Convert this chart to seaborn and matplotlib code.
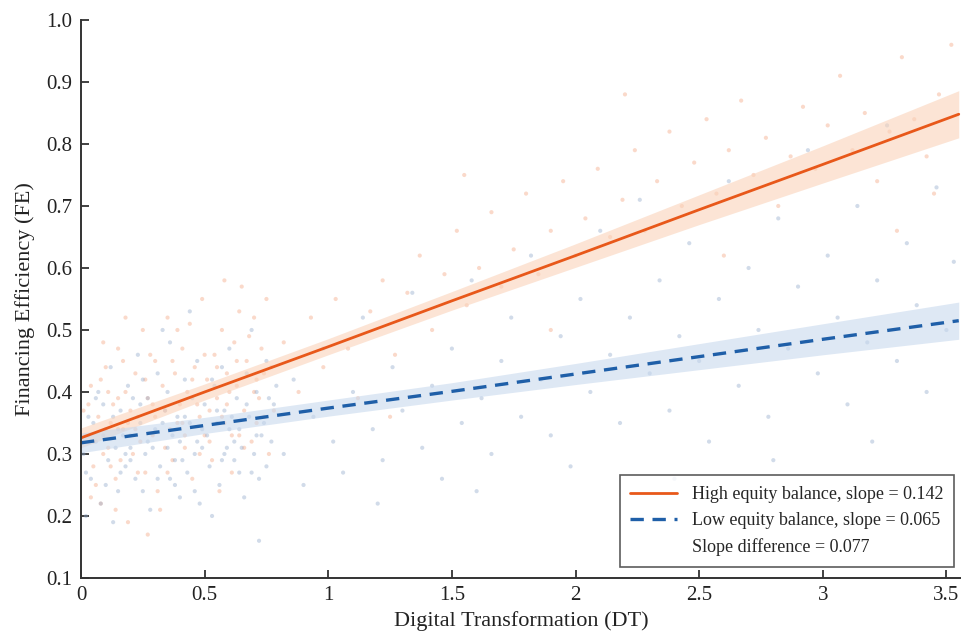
import numpy as np
import pandas as pd
import matplotlib
matplotlib.use("Agg")
import matplotlib.pyplot as plt
from matplotlib.lines import Line2D
import seaborn as sns

# scatter points (DT, FE)
high_x = [0.02, 0.04, 0.05, 0.07, 0.08, 0.10, 0.11, 0.13, 0.14, 0.15, 0.17, 0.18, 0.19, 0.21, 0.22, 0.23,
          0.25, 0.26, 0.27, 0.29, 0.30, 0.31, 0.33, 0.34, 0.35, 0.37, 0.38, 0.39, 0.41, 0.42, 0.43, 0.45,
          0.46, 0.47, 0.49, 0.50, 0.51, 0.53, 0.54, 0.55, 0.57, 0.58, 0.59, 0.61, 0.62, 0.63, 0.65, 0.66,
          0.67, 0.69, 0.70, 0.71, 0.73, 0.74, 0.75, 0.77, 0.06, 0.12, 0.16, 0.20, 0.24, 0.28, 0.32, 0.36,
          0.40, 0.44, 0.48, 0.52, 0.56, 0.60, 0.64, 0.68, 0.72, 0.76, 0.03, 0.09, 0.18, 0.27, 0.09, 0.58,
          0.01, 0.05, 0.08, 0.12, 0.15, 0.19, 0.23, 0.26, 0.30, 0.34, 0.37, 0.41, 0.45, 0.48, 0.52, 0.55,
          0.59, 0.63, 0.66, 0.70, 0.74, 0.78, 0.04, 0.11, 0.17, 0.22, 0.29, 0.35, 0.42, 0.50, 0.57, 0.64,
          0.71, 0.14, 0.39, 0.61,
          0.82, 0.88, 0.93, 0.98, 1.03, 1.08, 1.12, 1.17, 1.22, 1.27, 1.32, 1.37, 1.42, 1.47, 1.52, 1.56,
          1.61, 1.66, 1.70, 1.75, 1.80, 1.85, 1.90, 1.95, 2.00, 2.04, 2.09, 2.14, 2.19, 2.24, 2.28, 2.33,
          2.38, 2.43, 2.48, 2.53, 2.57, 2.62, 2.67, 2.72, 2.77, 2.82, 2.87, 2.92, 2.97, 3.02, 3.07, 3.12,
          3.17, 3.22, 3.27, 3.32, 3.37, 3.42, 3.47, 3.52, 1.25, 1.90, 2.60, 3.30, 2.20, 1.55, 3.45]
high_y = [0.33, 0.41, 0.28, 0.36, 0.22, 0.44, 0.31, 0.38, 0.26, 0.47, 0.34, 0.40, 0.19, 0.30, 0.43, 0.36,
          0.50, 0.27, 0.39, 0.33, 0.45, 0.24, 0.41, 0.37, 0.52, 0.29, 0.43, 0.35, 0.47, 0.31, 0.40, 0.26,
          0.44, 0.38, 0.55, 0.33, 0.42, 0.29, 0.46, 0.39, 0.50, 0.35, 0.43, 0.27, 0.48, 0.41, 0.57, 0.37,
          0.45, 0.32, 0.52, 0.42, 0.47, 0.36, 0.55, 0.44, 0.25, 0.35, 0.29, 0.37, 0.32, 0.46, 0.21, 0.34,
          0.38, 0.51, 0.30, 0.37, 0.24, 0.40, 0.33, 0.49, 0.39, 0.30, 0.38, 0.30, 0.52, 0.17, 0.48, 0.58,
          0.37, 0.32, 0.42, 0.28, 0.39, 0.35, 0.27, 0.42, 0.36, 0.31, 0.45, 0.35, 0.42, 0.36, 0.32, 0.44,
          0.38, 0.45, 0.31, 0.40, 0.43, 0.37, 0.23, 0.40, 0.45, 0.34, 0.38, 0.27, 0.33, 0.46, 0.36, 0.53,
          0.35, 0.21, 0.50, 0.33,
          0.48, 0.40, 0.52, 0.44, 0.55, 0.47, 0.39, 0.53, 0.58, 0.46, 0.56, 0.62, 0.50, 0.59, 0.66, 0.54,
          0.60, 0.69, 0.57, 0.63, 0.72, 0.59, 0.66, 0.74, 0.62, 0.68, 0.76, 0.65, 0.71, 0.79, 0.66, 0.74,
          0.82, 0.70, 0.77, 0.84, 0.72, 0.79, 0.87, 0.75, 0.81, 0.70, 0.78, 0.86, 0.76, 0.83, 0.91, 0.79,
          0.85, 0.74, 0.82, 0.94, 0.84, 0.78, 0.88, 0.96, 0.36, 0.50, 0.62, 0.66, 0.88, 0.75, 0.72]

low_x = [0.01, 0.03, 0.04, 0.06, 0.07, 0.08, 0.10, 0.11, 0.12, 0.14, 0.15, 0.16, 0.18, 0.19, 0.20, 0.22,
         0.23, 0.24, 0.26, 0.27, 0.28, 0.30, 0.31, 0.32, 0.34, 0.35, 0.36, 0.38, 0.39, 0.40, 0.42, 0.43,
         0.44, 0.46, 0.47, 0.48, 0.50, 0.51, 0.52, 0.54, 0.55, 0.56, 0.58, 0.59, 0.60, 0.62, 0.63, 0.64,
         0.66, 0.67, 0.68, 0.70, 0.71, 0.72, 0.74, 0.75, 0.77, 0.78, 0.02, 0.09, 0.13, 0.17, 0.21, 0.25,
         0.29, 0.33, 0.37, 0.41, 0.45, 0.49, 0.53, 0.57, 0.61, 0.65, 0.69, 0.73, 0.05, 0.44, 0.20, 0.72,
         0.02, 0.06, 0.09, 0.13, 0.16, 0.20, 0.24, 0.27, 0.31, 0.35, 0.38, 0.42, 0.46, 0.49, 0.53, 0.57,
         0.60, 0.64, 0.67, 0.71, 0.75, 0.79, 0.03, 0.10, 0.18, 0.25, 0.33, 0.40, 0.47, 0.55, 0.62, 0.69,
         0.76, 0.15, 0.36, 0.58,
         0.82, 0.86, 0.90, 0.94, 0.98, 1.02, 1.06, 1.10, 1.14, 1.18, 1.22, 1.26, 1.30, 1.34, 1.38, 1.42,
         1.46, 1.50, 1.54, 1.58, 1.62, 1.66, 1.70, 1.74, 1.78, 1.82, 1.86, 1.90, 1.94, 1.98, 2.02, 2.06,
         2.10, 2.14, 2.18, 2.22, 2.26, 2.30, 2.34, 2.38, 2.42, 2.46, 2.50, 2.54, 2.58, 2.62, 2.66, 2.70,
         2.74, 2.78, 2.82, 2.86, 2.90, 2.94, 2.98, 3.02, 3.06, 3.10, 3.14, 3.18, 3.22, 3.26, 3.30, 3.34,
         3.38, 3.42, 3.46, 3.50, 3.53, 1.20, 1.60, 2.80, 3.20, 2.40]
low_y = [0.30, 0.36, 0.26, 0.32, 0.40, 0.22, 0.34, 0.29, 0.44, 0.31, 0.24, 0.37, 0.28, 0.41, 0.33, 0.26,
         0.46, 0.35, 0.30, 0.39, 0.21, 0.34, 0.43, 0.28, 0.37, 0.31, 0.48, 0.25, 0.36, 0.32, 0.42, 0.27,
         0.35, 0.30, 0.45, 0.22, 0.38, 0.33, 0.28, 0.41, 0.35, 0.25, 0.37, 0.31, 0.47, 0.29, 0.39, 0.34,
         0.23, 0.43, 0.36, 0.30, 0.40, 0.26, 0.35, 0.45, 0.32, 0.38, 0.20, 0.38, 0.19, 0.33, 0.39, 0.24,
         0.31, 0.50, 0.33, 0.29, 0.39, 0.34, 0.20, 0.44, 0.36, 0.31, 0.50, 0.33, 0.35, 0.53, 0.29, 0.16,
         0.27, 0.39, 0.33, 0.36, 0.27, 0.31, 0.38, 0.32, 0.26, 0.40, 0.29, 0.36, 0.24, 0.31, 0.42, 0.29,
         0.34, 0.27, 0.38, 0.33, 0.28, 0.41, 0.33, 0.25, 0.30, 0.42, 0.35, 0.23, 0.32, 0.37, 0.32, 0.27,
         0.39, 0.34, 0.26, 0.30,
         0.30, 0.42, 0.25, 0.36, 0.47, 0.32, 0.27, 0.40, 0.52, 0.34, 0.29, 0.44, 0.37, 0.56, 0.31, 0.41,
         0.26, 0.47, 0.35, 0.58, 0.39, 0.30, 0.45, 0.52, 0.36, 0.62, 0.42, 0.33, 0.49, 0.28, 0.55, 0.40,
         0.66, 0.46, 0.35, 0.52, 0.71, 0.43, 0.58, 0.37, 0.49, 0.64, 0.45, 0.32, 0.55, 0.74, 0.41, 0.60,
         0.50, 0.36, 0.68, 0.47, 0.57, 0.79, 0.43, 0.62, 0.52, 0.38, 0.70, 0.48, 0.58, 0.83, 0.45, 0.64,
         0.54, 0.40, 0.73, 0.50, 0.61, 0.22, 0.24, 0.29, 0.32, 0.26]

# fitted lines and confidence bands
fit_x = [0.0, 0.5, 1.0, 1.5, 2.0, 2.5, 3.0, 3.55]
high_fit = [0.326, 0.400, 0.473, 0.547, 0.620, 0.694, 0.767, 0.848]
high_half = [0.016, 0.013, 0.013, 0.015, 0.019, 0.024, 0.030, 0.038]
low_fit = [0.318, 0.346, 0.374, 0.401, 0.429, 0.457, 0.485, 0.515]
low_half = [0.016, 0.013, 0.013, 0.014, 0.017, 0.021, 0.025, 0.030]

labels = ["High equity balance, slope = 0.142",
          "Low equity balance, slope = 0.065",
          "Slope difference = 0.077"]

orange = "#E8581A"
blue = "#1F5FA8"

sns.set_style("ticks")
plt.rcParams["font.family"] = ["Liberation Serif", "DejaVu Serif"]

fig = plt.figure(figsize=(9.62, 6.35), dpi=100)
ax = fig.add_axes([0.0842, 0.0898, 0.915, 0.8787])

pts = pd.concat([
    pd.DataFrame({"DT": high_x, "FE": high_y, "grp": "high"}),
    pd.DataFrame({"DT": low_x, "FE": low_y, "grp": "low"}),
])
sns.scatterplot(data=pts, x="DT", y="FE", hue="grp",
                palette={"high": "#F4A27C", "low": "#8DA6C9"},
                s=9, alpha=0.4, linewidth=0, legend=False, ax=ax)

fx = np.array(fit_x)
hf, hh = np.array(high_fit), np.array(high_half)
lf, lh = np.array(low_fit), np.array(low_half)
ax.fill_between(fx, hf - hh, hf + hh, color="#FAD3BA", alpha=0.6, linewidth=0)
ax.fill_between(fx, lf - lh, lf + lh, color="#C8D9EE", alpha=0.6, linewidth=0)

sns.lineplot(x=fit_x, y=high_fit, color=orange, linewidth=2.0, ax=ax)
sns.lineplot(x=fit_x, y=low_fit, color=blue, linewidth=2.4, ax=ax)
ax.lines[-1].set_dashes([4, 2.6])

ax.set_xlim(0, 3.56)
ax.set_ylim(0.1, 1.0)
ax.set_xticks([0, 0.5, 1, 1.5, 2, 2.5, 3, 3.5])
ax.set_xticklabels(["0", "0.5", "1", "1.5", "2", "2.5", "3", "3.5"])
ax.set_yticks(np.arange(0.1, 1.01, 0.1))
ax.set_yticklabels([f"{v:.1f}" for v in np.arange(0.1, 1.01, 0.1)])
ax.tick_params(direction="in", length=6, width=1.3, color="#333333",
               labelsize=15, labelcolor="#222222", pad=6)
for s in ["top", "right"]:
    ax.spines[s].set_visible(False)
for s in ["left", "bottom"]:
    ax.spines[s].set_color("#333333")
    ax.spines[s].set_linewidth(1.4)

ax.set_xlabel("Digital Transformation (DT)", fontsize=16, color="#222222", labelpad=4)
ax.set_ylabel("Financing Efficiency (FE)", fontsize=16, color="#222222", labelpad=8)

handles = [Line2D([], [], color=orange, linewidth=2.0),
           Line2D([], [], color=blue, linewidth=2.4, dashes=[4, 2.6]),
           Line2D([], [], linestyle="none")]
leg = ax.legend(handles, labels, loc="lower right", bbox_to_anchor=(0.992, 0.02),
                borderaxespad=0, fontsize=13, frameon=True, fancybox=False,
                handlelength=2.6, borderpad=0.6, labelspacing=0.5)
leg.get_frame().set_edgecolor("#333333")
leg.get_frame().set_linewidth(1.2)

fig.savefig("out.png", dpi=100)
